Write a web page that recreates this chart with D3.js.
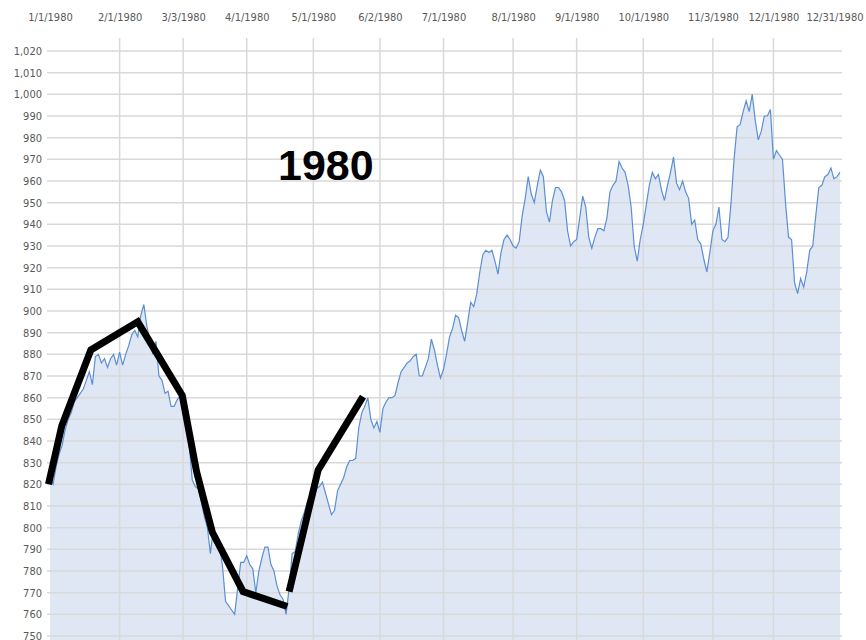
<!DOCTYPE html>
<html>
<head>
<meta charset="utf-8">
<script src="https://cdn.jsdelivr.net/npm/d3@7"></script>
<style>
  body { margin: 0; background: #fff; }
  .axis text { font-family: "Liberation Sans Narrow", "DejaVu Sans Condensed", sans-serif; font-size: 11px; fill: #595959; }
</style>
</head>
<body>
<div id="chart-area"></div>
<script>
// Daily close, one value per weekday of 1980
const values = [
  823, 820, 828, 834, 838, 845, 850, 853, 858, 860, 862, 864, 868, 872, 866, 879, 880, 876, 878, 874,
  878, 880, 875, 881, 875, 880, 884, 889, 891, 888, 898, 903, 893, 886, 880, 886, 870, 868, 862, 863,
  856, 856, 859, 861, 855, 846, 838, 822, 819, 818, 812, 805, 800, 788, 800, 796, 792, 782, 766, 764,
  762, 760, 772, 784, 784, 787, 783, 781, 770, 780, 786, 791, 791, 783, 780, 773, 769, 767, 760, 772,
  788, 789, 797, 803, 807, 812, 815, 813, 818, 819, 821, 816, 811, 806, 808, 817, 820, 823, 828, 831,
  831, 832, 846, 853, 856, 860, 850, 846, 849, 844, 855, 858, 860, 860, 861, 867, 872, 874, 876, 877,
  879, 880, 870, 870, 874, 878, 887, 882, 875, 869, 873, 880, 888, 892, 898, 897, 891, 886, 895, 904,
  902, 908, 918, 926, 928, 927, 928, 923, 917, 927, 933, 935, 933, 930, 929, 932, 944, 952, 962, 954,
  950, 958, 965, 962, 946, 941, 951, 957, 957, 955, 951, 937, 930, 932, 933, 943, 953, 948, 934, 929,
  934, 938, 938, 937, 943, 955, 958, 960, 969, 966, 964, 958, 948, 930, 923, 933, 940, 949, 958, 964,
  961, 963, 956, 951, 958, 964, 971, 959, 956, 960, 955, 952, 940, 942, 933, 931, 924, 918, 927, 937,
  940, 948, 933, 932, 934, 950, 970, 985, 986, 992, 997, 992, 1000, 988, 979, 983, 990, 990, 993, 970,
  974, 972, 970, 950, 934, 933, 913, 908, 915, 911, 918, 928, 930, 944, 957, 958, 962, 963, 966, 961,
  962, 964
];

// date labels along the top
const tickLabels = ["1/1/1980", "2/1/1980", "3/3/1980", "4/1/1980", "5/1/1980", "6/2/1980", "7/1/1980",
                    "8/1/1980", "9/1/1980", "10/1/1980", "11/3/1980", "12/1/1980", "12/31/1980"];
const yTicks = d3.range(750, 1021, 10);

// hand drawn black strokes: [weekday index, value]
const stroke1 = [[-0.5, 820], [3.9, 847], [13.5, 882], [29.0, 895], [43.7, 861], [48.4, 826], [53.6, 798], [63.8, 770.5], [78.4, 763.6]];
const stroke2 = [[79.0, 770.5], [88.6, 826.6], [103.4, 860.5]];

const title = "1980";

// weekday categories
const fmt = d3.timeFormat("%-m/%-d/%Y");
const dates = d3.timeDay.range(new Date(1980, 0, 1), new Date(1981, 0, 1))
                .filter(d => d.getDay() !== 0 && d.getDay() !== 6)
                .map(fmt);
const tickIdx = tickLabels.map(l => dates.indexOf(l));

const width = 866;
const height = 640;

const x = d3.scaleLinear().domain([0, dates.length - 1]).range([50, 840]);
const y = d3.scaleLinear().domain([750, 1020]).range([636, 51]);

const svg = d3.select("#chart-area")
              .append("svg")
                .attr("width", width)
                .attr("height", height);

// area
svg.append("path")
    .datum(values)
    .attr("fill", "#4472c4")
    .attr("fill-opacity", 0.17)
    .attr("d", d3.area().x((d, i) => x(i)).y0(height).y1(d => y(d)));

// gridlines
svg.append("g")
    .selectAll("line")
    .data(yTicks)
    .enter().append("line")
        .attr("x1", 47)
        .attr("x2", 842)
        .attr("y1", d => y(d))
        .attr("y2", d => y(d))
        .attr("stroke", "#d9d9d9")
        .attr("stroke-width", 1.5);

svg.append("g")
    .selectAll("line")
    .data(tickIdx.slice(1, -1))
    .enter().append("line")
        .attr("x1", d => x(d))
        .attr("x2", d => x(d))
        .attr("y1", 38)
        .attr("y2", height)
        .attr("stroke", "#d9d9d9")
        .attr("stroke-width", 1.5);

// line
svg.append("path")
    .datum(values)
    .attr("fill", "none")
    .attr("stroke", "#5b8fd3")
    .attr("stroke-width", 1.2)
    .attr("d", d3.line().x((d, i) => x(i)).y(d => y(d)));

// axes
svg.append("g")
    .attr("class", "axis")
    .attr("transform", "translate(47, 0)")
    .call(d3.axisLeft(y).tickValues(yTicks).tickFormat(d3.format(",")).tickSize(0).tickPadding(5))
    .call(g => g.select(".domain").remove());

svg.append("g")
    .attr("class", "axis")
    .attr("transform", "translate(0, 21)")
    .call(d3.axisTop(x).tickValues(tickIdx).tickFormat(i => dates[i]).tickSize(0).tickPadding(0))
    .call(g => g.select(".domain").remove())
    .call(g => g.select(".tick:last-of-type text").attr("text-anchor", "end").attr("x", 23));

// black strokes
[stroke1, stroke2].forEach(s => {
    svg.append("path")
        .datum(s)
        .attr("fill", "none")
        .attr("stroke", "#000")
        .attr("stroke-width", 7)
        .attr("stroke-linejoin", "miter")
        .attr("d", d3.line().x(d => x(d[0])).y(d => y(d[1])));
});

svg.append("text")
    .attr("x", 278)
    .attr("y", 180)
    .attr("font-family", "Liberation Sans, Arial, sans-serif")
    .attr("font-weight", "bold")
    .attr("font-size", "43px")
    .attr("fill", "#000")
    .text(title);
</script>
</body>
</html>
